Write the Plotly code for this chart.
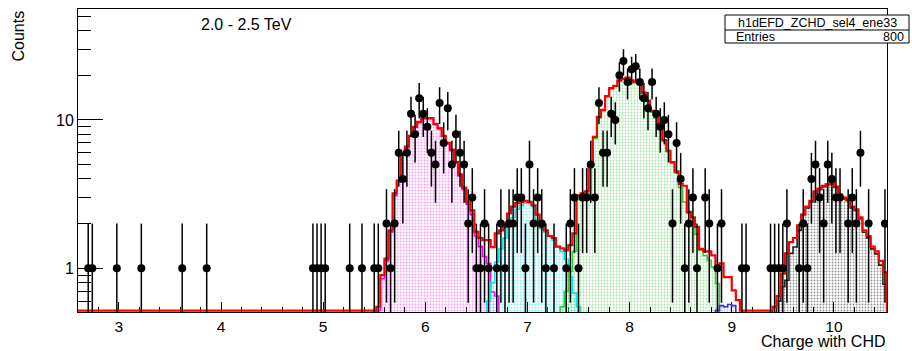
import math
import plotly.graph_objects as go

# ---------------- data ----------------
BIN_W = 0.04          # histogram bin width
X_LO, X_HI = 2.6, 10.52
Y_LO, Y_HI = 0.507, 56.0

# measured counts (bin centres)
points_x = [2.70, 2.74, 2.98, 3.22, 3.62, 3.86, 4.90, 4.94, 4.98, 5.02, 5.26, 5.38, 5.50, 5.54,
            5.62, 5.66, 5.70, 5.74, 5.78, 5.82, 5.86, 5.90, 5.94, 5.98, 6.02, 6.06, 6.10, 6.14,
            6.18, 6.22, 6.26, 6.30, 6.34, 6.38, 6.42, 6.46, 6.50, 6.54, 6.58, 6.62,
            6.70, 6.74, 6.78, 6.82, 6.86, 6.90, 6.94, 6.98, 7.02, 7.06, 7.10, 7.14, 7.18, 7.26,
            7.38, 7.42, 7.46, 7.50, 7.54, 7.58, 7.62, 7.66, 7.70, 7.74, 7.78, 7.82, 7.86, 7.90,
            7.94, 7.98, 8.02, 8.06, 8.10, 8.14, 8.18, 8.22, 8.26, 8.30, 8.34, 8.38, 8.42, 8.46,
            8.50, 8.54, 8.58, 8.62, 8.66, 8.74, 8.78, 8.86, 8.90,
            9.10, 9.14, 9.38, 9.42, 9.46, 9.50, 9.54, 9.66, 9.70, 9.74, 9.78, 9.82, 9.86, 9.90,
            9.94, 9.98, 10.02, 10.06, 10.14, 10.18, 10.22, 10.26, 10.34, 10.50]
points_n = [1, 1, 1, 1, 1, 1, 1, 1, 1, 1, 1, 1, 1, 1,
            2, 1, 2, 6, 4, 6, 11, 8, 14, 11, 9, 6, 5, 13,
            7, 12, 5, 8, 6, 5, 2, 3, 1, 1, 2, 1,
            1, 2, 1, 2, 2, 3, 3, 1, 5, 2, 3, 2, 1, 1,
            1, 2, 3, 1, 3, 3, 5, 3, 13, 6, 6, 11, 10, 20,
            25, 18, 22, 23, 18, 14, 12, 18, 11, 9, 10, 8, 2, 7,
            4, 1, 2, 3, 1, 3, 2, 1, 2,
            1, 1, 1, 1, 1, 1, 2, 1, 2, 1, 4, 5, 3, 2,
            5, 4, 3, 3, 2, 3, 2, 6, 2, 2]

# fitted templates: first bin centre + per-bin contents
carbon_x0 = 5.54
carbon = [0.52, 0.85, 1.12, 1.75, 3.1, 3.8, 5.8, 6.5, 7.7, 8.9, 9.6, 10.2, 10.2, 10.2, 9.3,
          8.7, 7.7, 6.9, 6.2, 5.1, 4.2, 3.4, 2.7, 2.3, 1.65, 1.4, 1.2, 1.08, 0.69, 0.65]
nitrogen_x0 = 6.62
nitrogen = [0.6, 0.8, 1.1, 1.35, 1.6, 1.9, 2.2, 2.5, 2.65, 2.75, 2.75, 2.6, 2.1, 1.85, 1.75,
            1.63, 1.55, 1.4, 1.3, 1.15, 0.88, 0.68, 0.55]
oxygen_x0 = 7.34
oxygen = [0.55, 0.7, 0.95, 1.3, 2.9, 3.1, 3.2, 5.0, 7.5, 10.3, 11.5, 14.3, 16.2, 16.8, 18.3,
          18.8, 19.1, 18.3, 17.8, 17.5, 15.1, 13.3, 11.3, 10.3, 8.9, 7.2, 6.1, 5.1, 4.4, 3.5,
          2.8, 2.34, 2.06, 1.7, 1.32, 1.22, 1.13, 1.02, 0.79]
fluorine_x0 = 8.82
fluorine = [0.45, 0.52, 0.56, 0.55, 0.57, 0.56, 0.45]
neon_x0 = 9.46
neon = [0.6, 0.75, 0.83, 1.26, 1.39, 1.8, 2.3, 2.55, 2.8, 3.2, 3.4, 3.55, 3.65, 3.7, 3.5,
        3.1, 2.95, 2.85, 2.55, 2.45, 2.15, 1.75, 1.6, 1.35, 1.25, 1.05, 0.78]
total_x0 = 5.54
total = [0.55, 0.9, 1.16, 1.8, 3.2, 3.9, 5.9, 6.6, 7.8, 9.0, 9.7, 10.3, 10.3, 10.3, 9.4,
         8.8, 7.8, 7.0, 6.3, 5.2, 4.3, 3.5, 2.8, 2.46, 1.76,
         1.6, 1.55, 1.55, 1.39, 1.72, 1.8, 1.9, 2.34, 2.6, 2.75, 2.8, 2.85, 2.8, 2.66, 2.3,
         1.9, 1.8, 1.65, 1.6, 1.4, 1.36, 1.32, 1.43, 1.72, 3.1, 3.2, 3.3, 5.1, 7.7,
         10.5, 11.7, 14.5, 16.4, 17.0, 18.5, 19.0, 19.3, 18.5, 18.0, 17.7, 15.3, 13.5, 11.5,
         10.5, 9.0, 7.3, 6.2, 5.2, 4.5, 3.7, 3.6, 2.4, 2.2, 1.9, 1.35, 1.3, 1.3, 1.22, 1.02,
         1.08, 0.87, 0.87, 0.71, 0.61,
         0, 0, 0, 0, 0, 0, 0, 0,
         0.55, 0.65, 0.92, 1.26, 1.5, 1.6, 1.95, 2.3, 2.6, 2.85, 3.3, 3.45, 3.6, 3.7, 3.75,
         3.55, 3.15, 3.0, 2.9, 2.6, 2.5, 2.2, 1.8, 1.65, 1.4, 1.3, 1.12, 0.94]

hist_name = "h1dEFD_ZCHD_sel4_ene33"
entries = 800
energy_label = "2.0 - 2.5 TeV"

# ---------------- helpers ----------------
W, H = 912, 351
ML, MR, MT, MB = 78, 25, 9, 39
PW, PH = W - ML - MR, H - MT - MB
FONT = "Liberation Sans, Arial, Helvetica, sans-serif"


def px_x(px):
    return (px - ML) / PW


def px_y(py):
    return 1 - (py - MT) / PH


def step_poly(x0, vals, floor):
    xs, ys = [x0 - BIN_W / 2], [floor]
    for i, v in enumerate(vals):
        lo = x0 - BIN_W / 2 + i * BIN_W
        hi = lo + BIN_W
        v = v if v > 0 else floor
        xs += [lo, hi]
        ys += [v, v]
    xs.append(xs[-1])
    ys.append(floor)
    return xs, ys


fig = go.Figure()

FILL_FLOOR = 0.1
components = [
    (carbon_x0, carbon, "#ff00ff", "#ff33ff", 0.32),
    (nitrogen_x0, nitrogen, "#00e5ee", "#00e8f0", 0.32),
    (oxygen_x0, oxygen, "#33cc33", "#44cc44", 0.28),
    (fluorine_x0, fluorine, "#3333cc", "#6666ff", 0.3),
    (neon_x0, neon, "#222222", "#222222", 0.28),
]
for x0, vals, lc, pc, sol in components:
    xs, ys = step_poly(x0, vals, FILL_FLOOR)
    fig.add_trace(go.Scatter(
        x=xs, y=ys, mode="lines", fill="toself", fillcolor="rgba(0,0,0,0)",
        fillpattern=dict(shape=".", fgcolor=pc, bgcolor="rgba(255,255,255,0)",
                         size=3, solidity=sol),
        line=dict(color=lc, width=1.6), hoverinfo="skip"))

# total fit (red); empty bins lie on the frame bottom
floor_line = Y_LO * 1.02
tx, ty = step_poly(total_x0, total, floor_line)
tx = [X_LO] + tx + [X_HI]
ty = [floor_line] + ty + [floor_line]
fig.add_trace(go.Scatter(x=tx, y=ty, mode="lines",
                         line=dict(color="#ff0000", width=2.2), hoverinfo="skip"))

# error bars (Poisson sqrt(n))
ex, ey = [], []
for x, n in zip(points_x, points_n):
    lo = max(n - math.sqrt(n), 0.3)
    hi = n + math.sqrt(n)
    ex += [x, x, None]
    ey += [lo, hi, None]
fig.add_trace(go.Scatter(x=ex, y=ey, mode="lines",
                         line=dict(color="black", width=1.5), hoverinfo="skip"))
fig.add_trace(go.Scatter(x=points_x, y=points_n, mode="markers",
                         marker=dict(color="black", size=8, symbol="circle"),
                         hoverinfo="skip"))

fig.update_layout(
    width=W, height=H, margin=dict(l=ML, r=MR, t=MT, b=MB),
    plot_bgcolor="white", paper_bgcolor="white", showlegend=False,
    font=dict(family=FONT, color="black", size=16),
)
fig.update_xaxes(
    range=[X_LO, X_HI], showgrid=False, zeroline=False,
    showline=True, mirror=True, linecolor="black", linewidth=1,
    ticks="inside", ticklen=10, tickwidth=1, tickcolor="black",
    tick0=0, dtick=1, tickfont=dict(size=15.5, family=FONT),
    minor=dict(ticks="inside", ticklen=5, tickcolor="black", dtick=0.2, tick0=0,
               showgrid=False),
    layer="below traces",
)
fig.update_yaxes(
    type="log", range=[math.log10(Y_LO), math.log10(Y_HI)], showgrid=False, zeroline=False,
    showline=True, mirror=True, linecolor="black", linewidth=1,
    ticks="inside", ticklen=25, tickwidth=1, tickcolor="black",
    tickmode="array", tickvals=[1, 10], ticktext=["1", "10"],
    tickfont=dict(size=16, family=FONT),
    minor=dict(ticks="inside", ticklen=13, tickcolor="black", tickmode="array",
               tickvals=[0.6, 0.7, 0.8, 0.9, 2, 3, 4, 5, 6, 7, 8, 9, 20, 30, 40, 50],
               showgrid=False),
    layer="below traces",
)

# stat box
bx0, bx1, by0, bmid, by1 = 725, 909, 15, 30, 43
fig.add_shape(type="rect", xref="paper", yref="paper",
              x0=px_x(bx0), x1=px_x(bx1), y0=px_y(by1), y1=px_y(by0),
              line=dict(color="black", width=1), fillcolor="white", layer="above")
fig.add_shape(type="line", xref="paper", yref="paper",
              x0=px_x(bx0), x1=px_x(bx1), y0=px_y(bmid), y1=px_y(bmid),
              line=dict(color="black", width=1), layer="above")

ann = []
ann.append(dict(text=hist_name, x=px_x((bx0 + bx1) / 2), y=px_y((by0 + bmid) / 2),
                xanchor="center", yanchor="middle", font=dict(size=12.5)))
ann.append(dict(text="Entries", x=px_x(bx0 + 9), y=px_y((bmid + by1) / 2),
                xanchor="left", yanchor="middle", font=dict(size=12.5)))
ann.append(dict(text=str(entries), x=px_x(bx1 - 3), y=px_y((bmid + by1) / 2),
                xanchor="right", yanchor="middle", font=dict(size=12.5)))
ann.append(dict(text=energy_label, x=px_x(199), y=px_y(25),
                xanchor="left", yanchor="middle", font=dict(size=16)))
ann.append(dict(text="Counts", x=px_x(18), y=px_y(9), textangle=-90,
                xanchor="center", yanchor="top", font=dict(size=16)))
ann.append(dict(text="Charge with CHD", x=px_x(887), y=px_y(341),
                xanchor="right", yanchor="middle", font=dict(size=16)))
for a in ann:
    a.update(xref="paper", yref="paper", showarrow=False)
fig.update_layout(annotations=ann)

fig.write_html("out.html")
